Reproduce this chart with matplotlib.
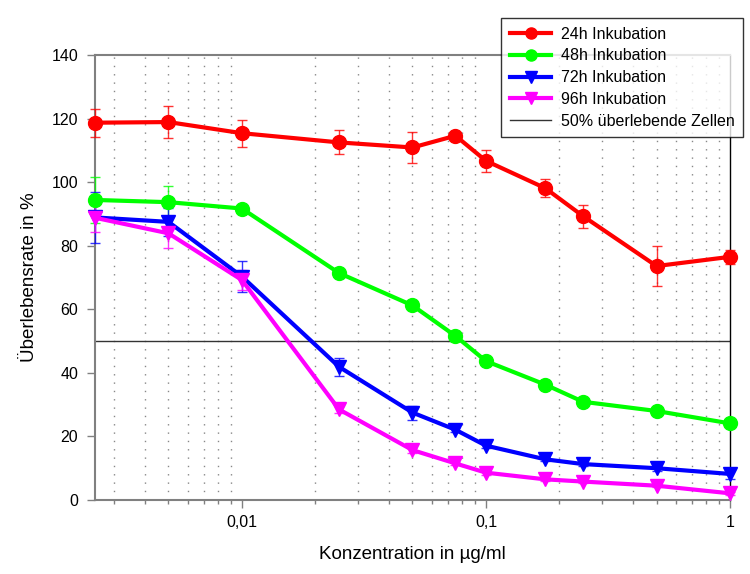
import numpy as np
import matplotlib
matplotlib.use('Agg')
import matplotlib.pyplot as plt
from matplotlib.ticker import LogLocator, FixedLocator, FixedFormatter, NullFormatter

plt.rcParams['font.family'] = ['Liberation Sans', 'DejaVu Sans']

# Konzentrationen (µg/ml)
konz = [0.0025, 0.005, 0.01, 0.025, 0.05, 0.075, 0.1, 0.175, 0.25, 0.5, 1]

# Überlebensrate in %
h24 = [118.7, 118.9, 115.4, 112.5, 110.9, 114.6, 106.7, 98.1, 89.3, 73.6, 76.5]
h24_err = [4.4, 5.0, 4.3, 3.8, 5.0, 0.8, 3.5, 2.8, 3.6, 6.4, 2.1]
h48 = [94.4, 93.7, 91.7, 71.4, 61.2, 51.6, 43.7, 36.3, 30.9, 28.0, 24.1]
h48_err = [7.1, 5.2, 0.8, 0.8, 1.0, 1.5, 1.0, 0.8, 0.6, 1.0, 0.6]
h72 = [88.9, 87.5, 70.3, 41.9, 27.5, 22.1, 17.1, 12.8, 11.3, 10.0, 8.2]
h72_err = [8.0, 4.3, 4.8, 2.8, 2.2, 0.8, 0.8, 0.6, 0.6, 0.8, 1.5]
h96 = [88.8, 83.9, 69.2, 28.5, 15.7, 11.5, 8.6, 6.5, 5.8, 4.5, 2.1]
h96_err = [4.5, 4.7, 3.1, 1.0, 0.8, 0.6, 0.6, 0.5, 0.5, 0.5, 0.5]

serien = [
    ('24h Inkubation', h24, h24_err, '#ff0000', 'o'),
    ('48h Inkubation', h48, h48_err, '#00ff00', 'o'),
    ('72h Inkubation', h72, h72_err, '#0000ff', 'v'),
    ('96h Inkubation', h96, h96_err, '#ff00ff', 'v'),
]

fig = plt.figure(figsize=(7.5, 5.74), dpi=100)
ax = fig.add_axes([95/750, 1-500/574, (730-95)/750, (500-55)/574])

for name, werte, fehler, farbe, marker in serien:
    ax.errorbar(konz, werte, yerr=fehler, fmt='none', capsize=3.6,
                elinewidth=1, ecolor=farbe, alpha=0.8, clip_on=False, zorder=3)
    ax.plot(konz, werte, color=farbe, lw=3, marker=marker, ms=10,
            label=name, clip_on=False, zorder=4)

ax.axhline(50, color='#333333', lw=1, label='50% überlebende Zellen', zorder=2)

ax.set_xscale('log')
ax.set_xlim(0.0025, 1)
ax.set_ylim(0, 140)
ax.xaxis.set_major_locator(FixedLocator([0.01, 0.1, 1]))
ax.xaxis.set_major_formatter(FixedFormatter(['0,01', '0,1', '1']))
ax.xaxis.set_minor_locator(LogLocator(base=10, subs=np.arange(2, 10)))
ax.xaxis.set_minor_formatter(NullFormatter())
ax.set_yticks(range(0, 141, 20))

ax.grid(which='minor', axis='x', color='#888888', lw=1, linestyle=(0, (1, 5)))
ax.grid(which='major', axis='x', visible=False)

for s in ax.spines.values():
    s.set_color('#808080')
    s.set_linewidth(1.5)
ax.spines['right'].set_color('black')
ax.spines['right'].set_linewidth(1)
ax.tick_params(which='major', direction='out', length=6, width=1, color='#808080', labelsize=11.5, pad=6)
ax.tick_params(which='minor', direction='out', length=3, width=1, color='#808080')
ax.tick_params(axis='x', which='major', pad=5)

ax.set_xlabel('Konzentration in µg/ml', fontsize=13.5, labelpad=11)
ax.set_ylabel('Überlebensrate in %', fontsize=13.5, labelpad=10)

leg = fig.legend(loc='upper left', bbox_to_anchor=(493/750, 1-10/574), fontsize=11.5,
                 numpoints=1, handlelength=2.6, handletextpad=0.6, frameon=True,
                 fancybox=False, borderpad=0.55, labelspacing=0.42, edgecolor='black')
leg.get_frame().set_linewidth(1)
for h in leg.legend_handles:
    h.set_markersize(8)

fig.savefig('out.png', dpi=100)
